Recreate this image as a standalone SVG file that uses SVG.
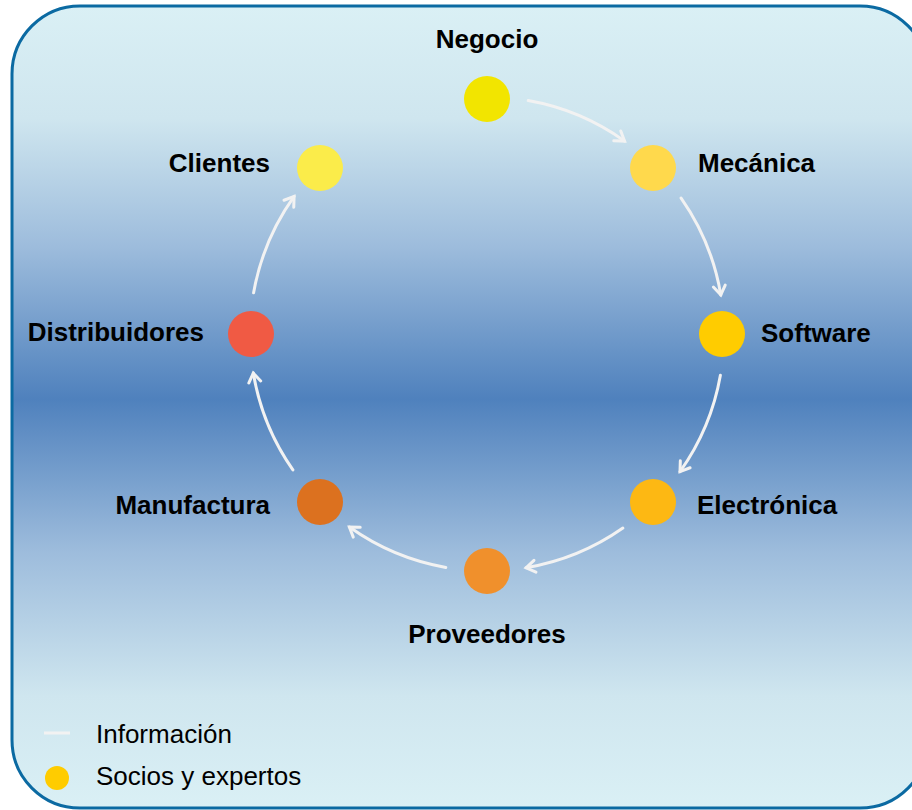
<svg xmlns="http://www.w3.org/2000/svg" width="912" height="810" viewBox="0 0 912 810">
<defs>
<linearGradient id="bg" x1="0" y1="0" x2="0" y2="1">
<stop offset="0" stop-color="#daf0f5"/>
<stop offset="0.14" stop-color="#cfe6ef"/>
<stop offset="0.3" stop-color="#9dbcdc"/>
<stop offset="0.49" stop-color="#4f81bd"/>
<stop offset="0.68" stop-color="#9dbcdc"/>
<stop offset="0.86" stop-color="#cfe6ef"/>
<stop offset="1" stop-color="#daf0f5"/>
</linearGradient>
<marker id="ah" markerUnits="userSpaceOnUse" markerWidth="20" markerHeight="20" refX="0" refY="0" viewBox="-12 -10 20 20" orient="auto" overflow="visible">
<path d="M -9 -6 L 0 0 L -9 6" fill="none" stroke="#f2f2f2" stroke-width="3" stroke-linecap="round" stroke-linejoin="miter"/>
</marker>
</defs>
<style>
.lbl{font-family:"Liberation Sans",Arial,sans-serif;font-weight:bold;font-size:26px;fill:#000}
.leg{font-family:"Liberation Sans",Arial,sans-serif;font-size:26px;fill:#000}
.arc{fill:none;stroke:#f2f2f2;stroke-width:3;stroke-linecap:round;marker-end:url(#ah)}
</style>
<rect x="12" y="6" width="916" height="802" rx="68" ry="68" fill="url(#bg)" stroke="#0b6aa2" stroke-width="3"/>
<g id="connectors">
<path class="arc" d="M 528.2 100.6 A 237 237 0 0 1 624.6 141.1"/>
<path class="arc" d="M 681.1 198.1 A 237 237 0 0 1 720.8 294.9"/>
<path class="arc" d="M 720.4 375.2 A 237 237 0 0 1 680.0 471.6"/>
<path class="arc" d="M 622.9 528.1 A 237 237 0 0 1 526.1 567.8"/>
<path class="arc" d="M 445.8 567.4 A 237 237 0 0 1 349.4 527.0"/>
<path class="arc" d="M 292.9 469.9 A 237 237 0 0 1 253.3 373.1"/>
<path class="arc" d="M 253.6 292.8 A 237 237 0 0 1 294.1 196.4"/>
</g>
<g id="negocio"><circle cx="487" cy="99" r="23" fill="#f2e500"/><text class="lbl" x="487" y="48" text-anchor="middle">Negocio</text></g>
<g id="mecanica"><circle cx="653" cy="168" r="23" fill="#ffd94c"/><text class="lbl" x="698" y="172">Mecánica</text></g>
<g id="software"><circle cx="722" cy="334" r="23" fill="#ffcc00"/><text class="lbl" x="761" y="342">Software</text></g>
<g id="electronica"><circle cx="653" cy="502" r="23" fill="#fdb813"/><text class="lbl" x="697" y="514">Electrónica</text></g>
<g id="proveedores"><circle cx="487" cy="571" r="23" fill="#f0902c"/><text class="lbl" x="487" y="643" text-anchor="middle">Proveedores</text></g>
<g id="manufactura"><circle cx="320" cy="502" r="23" fill="#dc711f"/><text class="lbl" x="270" y="514" text-anchor="end">Manufactura</text></g>
<g id="distribuidores"><circle cx="251" cy="334" r="23" fill="#f05a44"/><text class="lbl" x="204" y="341" text-anchor="end">Distribuidores</text></g>
<g id="clientes"><circle cx="320" cy="168" r="23" fill="#fbec4a"/><text class="lbl" x="270" y="172" text-anchor="end">Clientes</text></g>
<g id="legend">
<line x1="44" y1="733" x2="70" y2="733" stroke="#f2f2f2" stroke-width="3"/>
<text class="leg" x="96" y="743">Información</text>
<circle cx="57" cy="778" r="12" fill="#ffcc00"/>
<text class="leg" x="96" y="785">Socios y expertos</text>
</g>
</svg>
